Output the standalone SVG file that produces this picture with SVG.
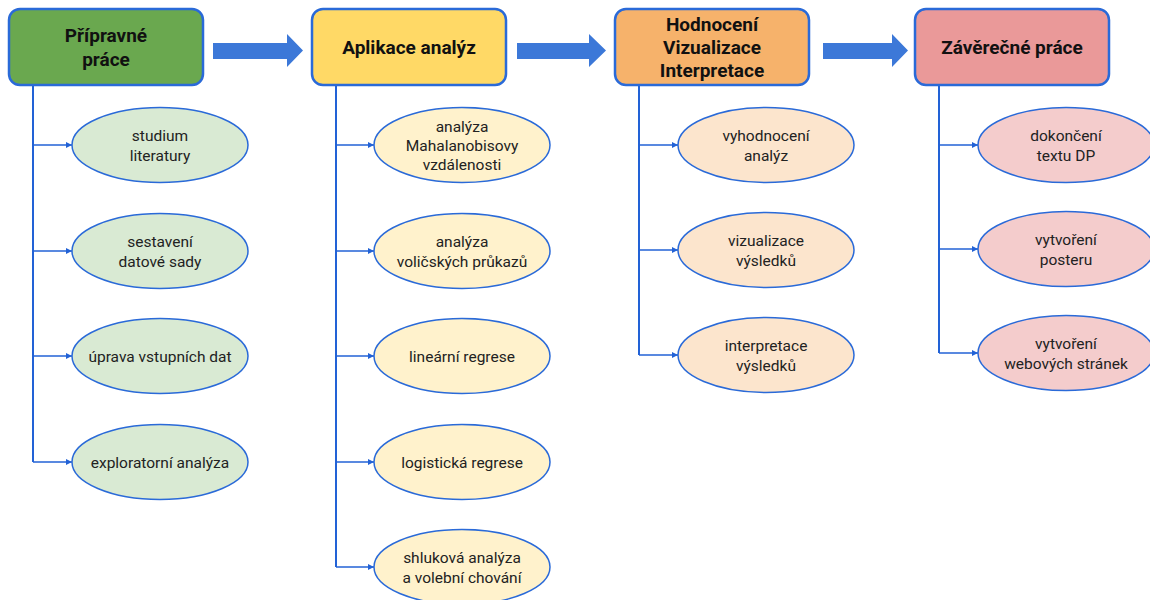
<svg xmlns="http://www.w3.org/2000/svg" width="1150" height="600" viewBox="0 0 1150 600">
<style>
.box{stroke:#2a6ad8;stroke-width:2.5}
.ell{stroke:#2a6ad8;stroke-width:1.5}
.t{font-family:Roboto,"Liberation Sans",sans-serif;font-weight:bold;font-size:19px;fill:#111;text-anchor:middle}
.e{font-family:Roboto,"Liberation Sans",sans-serif;font-size:15.5px;fill:#222;text-anchor:middle}
.ln{stroke:#2262d6;stroke-width:2;fill:none}
.br{stroke:#2262d6;stroke-width:1.5;fill:none;marker-end:url(#ah)}
.big{fill:#3c78d8}
.g{fill:#d9ead3}.y{fill:#fff2cc}.o{fill:#fce5cd}.p{fill:#f4cccc}
</style>
<defs>
<marker id="ah" viewBox="0 0 10 10" refX="10" refY="5" markerWidth="6" markerHeight="6" markerUnits="userSpaceOnUse" orient="auto">
<path d="M0,0 L10,5 L0,10 z" fill="#2262d6"/>
</marker>
</defs>
<rect width="1150" height="600" fill="#fff"/>
<g id="connectors">
<path class="big" d="M213,43 H287 V34 L303,50.5 L287,67 V59 H213 z"/>
<path class="big" d="M517,43 H589 V34 L606,50.5 L589,67 V59 H517 z"/>
<path class="big" d="M823,43 H892 V34 L908,50.5 L892,67 V59 H823 z"/>
<path class="ln" d="M33,85 V462"/>
<path class="br" d="M33,145 H72"/>
<path class="br" d="M33,251 H72"/>
<path class="br" d="M33,356 H72"/>
<path class="br" d="M33,462 H72"/>
<path class="ln" d="M336,85 V567"/>
<path class="br" d="M336,145 H374"/>
<path class="br" d="M336,251 H374"/>
<path class="br" d="M336,356 H374"/>
<path class="br" d="M336,462 H374"/>
<path class="br" d="M336,567 H374"/>
<path class="ln" d="M639,85 V355"/>
<path class="br" d="M639,145 H678"/>
<path class="br" d="M639,250 H678"/>
<path class="br" d="M639,355 H678"/>
<path class="ln" d="M939,85 V353"/>
<path class="br" d="M939,145 H978"/>
<path class="br" d="M939,249 H978"/>
<path class="br" d="M939,353 H978"/>
</g>
<g id="box1"><rect class="box" x="9" y="9" width="194" height="76" rx="11" fill="#6aa84f"/><text class="t" x="106" y="42">Přípravné</text><text class="t" x="106" y="66">práce</text></g>
<g id="box2"><rect class="box" x="312" y="9" width="194" height="76" rx="11" fill="#ffd966"/><text class="t" x="409" y="54">Aplikace analýz</text></g>
<g id="box3"><rect class="box" x="615" y="9" width="194" height="76" rx="11" fill="#f6b26b"/><text class="t" x="712" y="31">Hodnocení</text><text class="t" x="712" y="54">Vizualizace</text><text class="t" x="712" y="77">Interpretace</text></g>
<g id="box4"><rect class="box" x="915" y="9" width="194" height="76" rx="11" fill="#ea9999"/><text class="t" x="1012" y="54">Závěrečné práce</text></g>

<g id="n1a"><ellipse class="ell g" cx="160" cy="145" rx="88" ry="37.5"/><text class="e" x="160" y="141">studium</text><text class="e" x="160" y="161">literatury</text></g>
<g id="n1b"><ellipse class="ell g" cx="160" cy="251" rx="88" ry="37.5"/><text class="e" x="160" y="247">sestavení</text><text class="e" x="160" y="267">datové sady</text></g>
<g id="n1c"><ellipse class="ell g" cx="160" cy="356" rx="88" ry="37.5"/><text class="e" x="160" y="361.5">úprava vstupních dat</text></g>
<g id="n1d"><ellipse class="ell g" cx="160" cy="462" rx="88" ry="37.5"/><text class="e" x="160" y="467.5">exploratorní analýza</text></g>

<g id="n2a"><ellipse class="ell y" cx="462" cy="145" rx="88" ry="37.5"/><text class="e" x="462" y="132">analýza</text><text class="e" x="462" y="151">Mahalanobisovy</text><text class="e" x="462" y="170">vzdálenosti</text></g>
<g id="n2b"><ellipse class="ell y" cx="462" cy="251" rx="88" ry="37.5"/><text class="e" x="462" y="247">analýza</text><text class="e" x="462" y="267">voličských průkazů</text></g>
<g id="n2c"><ellipse class="ell y" cx="462" cy="356" rx="88" ry="37.5"/><text class="e" x="462" y="361.5">lineární regrese</text></g>
<g id="n2d"><ellipse class="ell y" cx="462" cy="462" rx="88" ry="37.5"/><text class="e" x="462" y="467.5">logistická regrese</text></g>
<g id="n2e"><ellipse class="ell y" cx="462" cy="567" rx="88" ry="37.5"/><text class="e" x="462" y="563">shluková analýza</text><text class="e" x="462" y="583">a volební chování</text></g>

<g id="n3a"><ellipse class="ell o" cx="766" cy="145" rx="88" ry="37.5"/><text class="e" x="766" y="141">vyhodnocení</text><text class="e" x="766" y="161">analýz</text></g>
<g id="n3b"><ellipse class="ell o" cx="766" cy="250" rx="88" ry="37.5"/><text class="e" x="766" y="246">vizualizace</text><text class="e" x="766" y="266">výsledků</text></g>
<g id="n3c"><ellipse class="ell o" cx="766" cy="355" rx="88" ry="37.5"/><text class="e" x="766" y="351">interpretace</text><text class="e" x="766" y="371">výsledků</text></g>

<g id="n4a"><ellipse class="ell p" cx="1066" cy="145" rx="88" ry="37.5"/><text class="e" x="1066" y="141">dokončení</text><text class="e" x="1066" y="161">textu DP</text></g>
<g id="n4b"><ellipse class="ell p" cx="1066" cy="249" rx="88" ry="37.5"/><text class="e" x="1066" y="245">vytvoření</text><text class="e" x="1066" y="265">posteru</text></g>
<g id="n4c"><ellipse class="ell p" cx="1066" cy="353" rx="88" ry="37.5"/><text class="e" x="1066" y="349">vytvoření</text><text class="e" x="1066" y="369">webových stránek</text></g>
</svg>
